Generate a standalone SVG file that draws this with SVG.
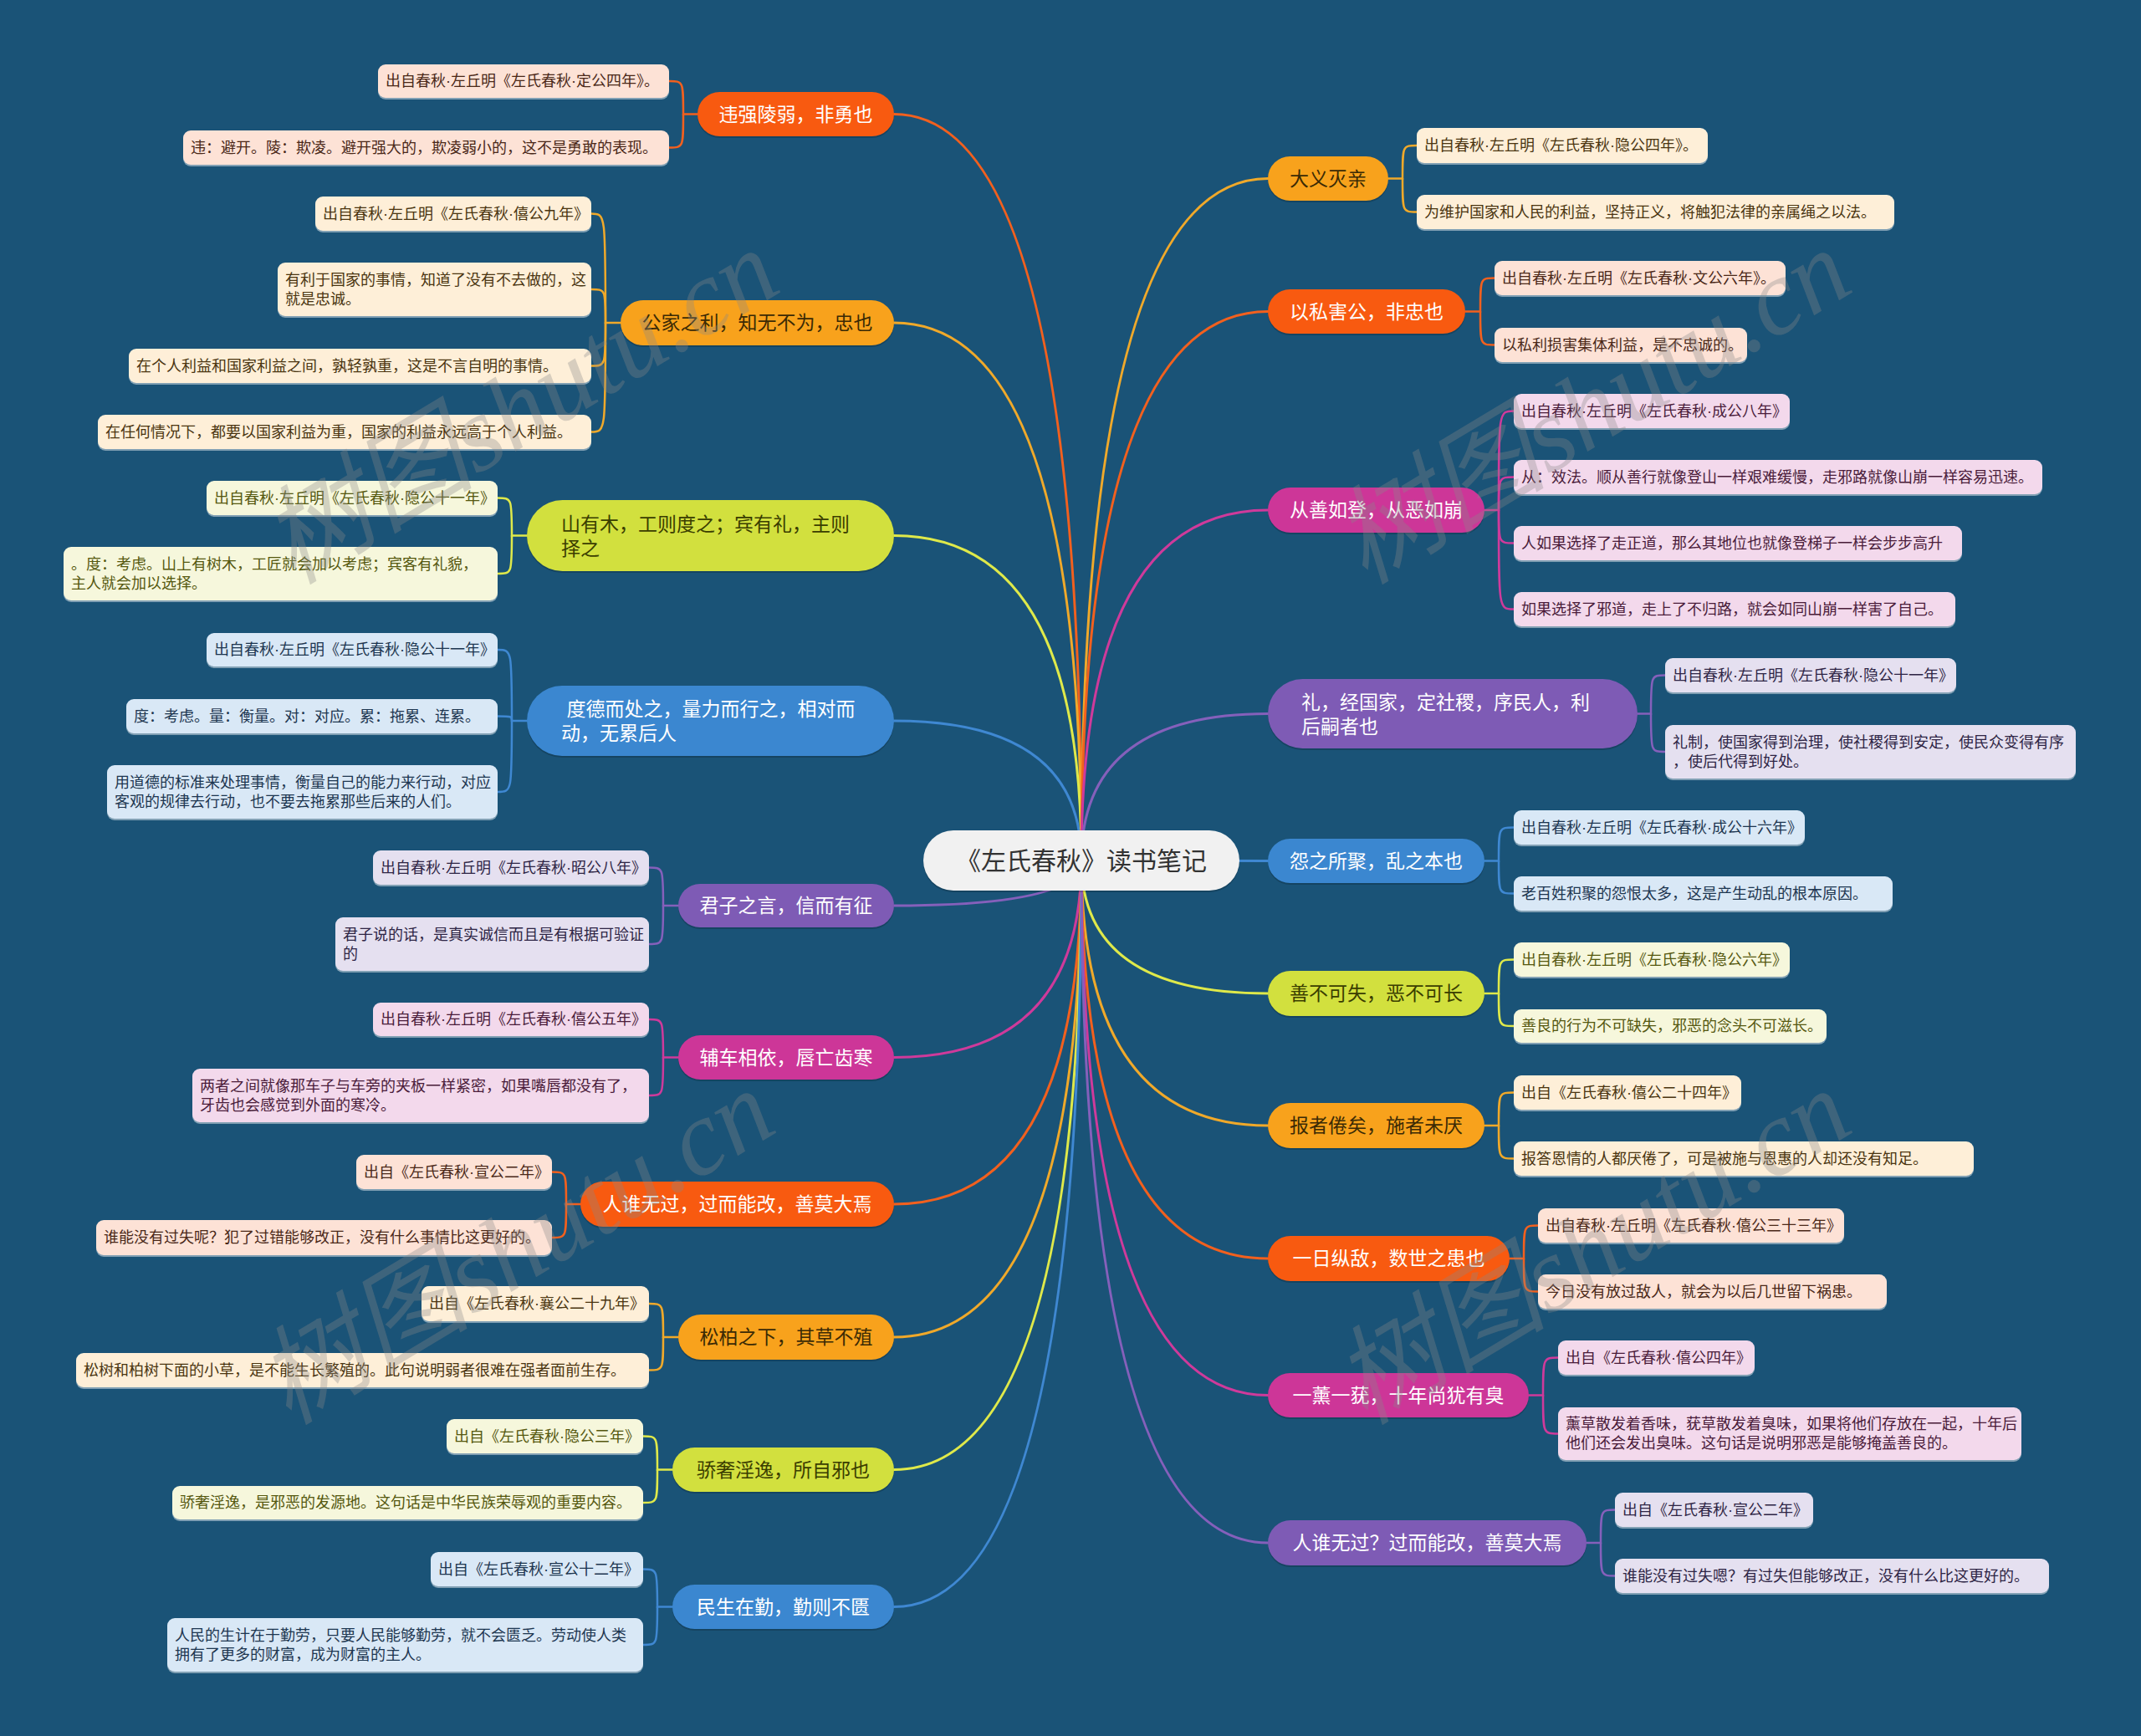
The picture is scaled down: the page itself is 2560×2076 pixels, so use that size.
<svg xmlns="http://www.w3.org/2000/svg" width="2560" height="2076" viewBox="0 0 2560 2076">
<defs>
<style>
text{font-family:"Liberation Sans","Noto Sans CJK SC",sans-serif;dominant-baseline:central}
.mt{font-size:23px;text-anchor:middle}
.ml{font-size:23px;text-anchor:start}
.st{font-size:18px;text-anchor:start}
.w{fill:#ffffff}
.dA{fill:#3b2a05}
.dY{fill:#3a3d00}
.mR{fill:#f85a10}.mA{fill:#f8a21c}.mY{fill:#d2e03e}.mB{fill:#3b87d0}.mP{fill:#7e5bb5}.mM{fill:#cd3698}
.sR{fill:#fde2d6}.sA{fill:#feefd8}.sY{fill:#f6f7dc}.sB{fill:#d9e8f6}.sP{fill:#e5e0f0}.sM{fill:#f3d9ec}
.tR{fill:#4a2818}.tA{fill:#4a3510}.tY{fill:#55580f}.tB{fill:#1d3650}.tP{fill:#2e2545}.tM{fill:#4a1c3a}
.shadow{fill:#000;fill-opacity:0.18}
.edge{fill:#ffffff;fill-opacity:0.45}
#connectors path{fill:none;stroke-linecap:round}
.cR{stroke:#f2601e}.cA{stroke:#f0a92a}.cY{stroke:#dfe94a}.cB{stroke:#3f88d2}.cP{stroke:#8560bb}.cM{stroke:#cf3a9b}
.k{stroke-width:3}
.c{stroke-width:2.5}
.wm{font-family:"Liberation Serif","Noto Sans CJK SC",serif;font-size:128px;font-style:italic;fill:#8a8a8a;fill-opacity:0.33;dominant-baseline:alphabetic}
</style>
</defs>
<rect x="0" y="0" width="2560" height="2076" fill="#1a5377"/>

<g id="connectors">
<path class="k cR" d="M1293 1029 Q1293 136.5 1069 136.5"/>
<path class="k cA" d="M1293 1029 Q1293 386 1069 386"/>
<path class="k cY" d="M1293 1029 Q1293 640.5 1069 640.5"/>
<path class="k cB" d="M1293 1029 Q1293 862 1069 862"/>
<path class="k cP" d="M1293 1029 Q1293 1083 1069 1083"/>
<path class="k cM" d="M1293 1029 Q1293 1264.5 1069 1264.5"/>
<path class="k cR" d="M1293 1029 Q1293 1440 1069 1440"/>
<path class="k cA" d="M1293 1029 Q1293 1599 1069 1599"/>
<path class="k cY" d="M1293 1029 Q1293 1757.5 1069 1757.5"/>
<path class="k cB" d="M1293 1029 Q1293 1921.5 1069 1921.5"/>
<path class="k cA" d="M1293 1029 Q1293 213.5 1516 213.5"/>
<path class="k cR" d="M1293 1029 Q1293 372.5 1516 372.5"/>
<path class="k cM" d="M1293 1029 Q1293 610 1516 610"/>
<path class="k cP" d="M1293 1029 Q1293 853.5 1516 853.5"/>
<path class="k cB" d="M1293 1029 L1516 1029.5"/>
<path class="k cY" d="M1293 1029 Q1293 1188 1516 1188"/>
<path class="k cA" d="M1293 1029 Q1293 1346 1516 1346"/>
<path class="k cR" d="M1293 1029 Q1293 1505 1516 1505"/>
<path class="k cM" d="M1293 1029 Q1293 1668.5 1516 1668.5"/>
<path class="k cP" d="M1293 1029 Q1293 1845 1516 1845"/>

<path class="c cR" d="M834 136.5 H817 C817 97 817 97 800 97"/>
<path class="c cR" d="M817 136.5 C817 176.5 817 176.5 800 176.5"/>
<path class="c cA" d="M742 386 H724 C724 255.5 724 255.5 707 255.5"/>
<path class="c cA" d="M724 386 C724 346 724 346 707 346"/>
<path class="c cA" d="M724 386 C724 437.5 724 437.5 707 437.5"/>
<path class="c cA" d="M724 386 C724 516.5 724 516.5 707 516.5"/>
<path class="c cY" d="M630 640.5 H612 C612 595.5 612 595.5 595 595.5"/>
<path class="c cY" d="M612 640.5 C612 686 612 686 595 686"/>
<path class="c cB" d="M630 862 H612 C612 777 612 777 595 777"/>
<path class="c cB" d="M612 862 C612 856.5 612 856.5 595 856.5"/>
<path class="c cB" d="M612 862 C612 947 612 947 595 947"/>
<path class="c cP" d="M811 1083 H793 C793 1037.5 793 1037.5 776 1037.5"/>
<path class="c cP" d="M793 1083 C793 1129 793 1129 776 1129"/>
<path class="c cM" d="M811 1264.5 H793 C793 1219 793 1219 776 1219"/>
<path class="c cM" d="M793 1264.5 C793 1310 793 1310 776 1310"/>
<path class="c cR" d="M694 1440 H677 C677 1401.5 677 1401.5 660 1401.5"/>
<path class="c cR" d="M677 1440 C677 1480 677 1480 660 1480"/>
<path class="c cA" d="M811 1599 H793 C793 1559 793 1559 776 1559"/>
<path class="c cA" d="M793 1599 C793 1638.5 793 1638.5 776 1638.5"/>
<path class="c cY" d="M804 1757.5 H786 C786 1717.5 786 1717.5 769 1717.5"/>
<path class="c cY" d="M786 1757.5 C786 1797 786 1797 769 1797"/>
<path class="c cB" d="M804 1921.5 H786 C786 1876.5 786 1876.5 769 1876.5"/>
<path class="c cB" d="M786 1921.5 C786 1967 786 1967 769 1967"/>

<path class="c cA" d="M1660 213.5 H1677 C1677 174 1677 174 1694 174"/>
<path class="c cA" d="M1677 213.5 C1677 253.5 1677 253.5 1694 253.5"/>
<path class="c cR" d="M1752 372.5 H1770 C1770 332.5 1770 332.5 1787 332.5"/>
<path class="c cR" d="M1770 372.5 C1770 412.5 1770 412.5 1787 412.5"/>
<path class="c cM" d="M1775 610 H1792 C1792 491.5 1792 491.5 1810 491.5"/>
<path class="c cM" d="M1792 610 C1792 570.5 1792 570.5 1810 570.5"/>
<path class="c cM" d="M1792 610 C1792 649.5 1792 649.5 1810 649.5"/>
<path class="c cM" d="M1792 610 C1792 728.5 1792 728.5 1810 728.5"/>
<path class="c cP" d="M1958 853.5 H1974 C1974 807.5 1974 807.5 1991 807.5"/>
<path class="c cP" d="M1974 853.5 C1974 899 1974 899 1991 899"/>
<path class="c cB" d="M1775 1029.5 H1792 C1792 989.5 1792 989.5 1810 989.5"/>
<path class="c cB" d="M1792 1029.5 C1792 1068.5 1792 1068.5 1810 1068.5"/>
<path class="c cY" d="M1775 1188 H1792 C1792 1147.5 1792 1147.5 1810 1147.5"/>
<path class="c cY" d="M1792 1188 C1792 1227 1792 1227 1810 1227"/>
<path class="c cA" d="M1775 1346 H1792 C1792 1306.5 1792 1306.5 1810 1306.5"/>
<path class="c cA" d="M1792 1346 C1792 1385.5 1792 1385.5 1810 1385.5"/>
<path class="c cR" d="M1805 1505 H1822 C1822 1465.5 1822 1465.5 1839 1465.5"/>
<path class="c cR" d="M1822 1505 C1822 1544.5 1822 1544.5 1839 1544.5"/>
<path class="c cM" d="M1828 1668.5 H1845 C1845 1623.5 1845 1623.5 1863 1623.5"/>
<path class="c cM" d="M1845 1668.5 C1845 1714.5 1845 1714.5 1863 1714.5"/>
<path class="c cP" d="M1897 1845 H1914 C1914 1805.5 1914 1805.5 1931 1805.5"/>
<path class="c cP" d="M1914 1845 C1914 1884.5 1914 1884.5 1931 1884.5"/>
</g>

<g id="root">
<rect x="1104" y="995" width="378" height="72" rx="36" class="shadow"/>
<rect x="1104" y="993" width="378" height="72" rx="36" fill="#f1f1f1"/>
<text x="1293" y="1029" style="font-size:30px;text-anchor:middle" fill="#333333">《左氏春秋》读书笔记</text>
</g>

<g id="L1">
<rect x="834" y="112" width="235" height="53" rx="26.5" class="shadow"/>
<rect x="834" y="110" width="235" height="53" rx="26.5" class="mR"/>
<text x="951.5" y="136.5" class="mt w">违强陵弱，非勇也</text>
</g>
<g id="L2">
<rect x="742" y="361" width="327" height="54" rx="27" class="shadow"/>
<rect x="742" y="359" width="327" height="54" rx="27" class="mA"/>
<text x="905.5" y="386" class="mt dA">公家之利，知无不为，忠也</text>
</g>
<g id="L3">
<rect x="630" y="600" width="439" height="85" rx="42.5" class="shadow"/>
<rect x="630" y="598" width="439" height="85" rx="42.5" class="mY"/>
<text class="ml dY"><tspan x="671" y="627">山有木，工则度之；宾有礼，主则</tspan><tspan x="671" y="656">择之</tspan></text>
</g>
<g id="L4">
<rect x="630" y="822" width="439" height="84" rx="42" class="shadow"/>
<rect x="630" y="820" width="439" height="84" rx="42" class="mB"/>
<text class="ml w" xml:space="preserve"><tspan x="671" y="848"> 度德而处之，量力而行之，相对而</tspan><tspan x="671" y="877">动，无累后人</tspan></text>
</g>
<g id="L5">
<rect x="811" y="1059" width="258" height="52" rx="26" class="shadow"/>
<rect x="811" y="1057" width="258" height="52" rx="26" class="mP"/>
<text x="940" y="1083" class="mt w">君子之言，信而有征</text>
</g>
<g id="L6">
<rect x="811" y="1240" width="258" height="53" rx="26.5" class="shadow"/>
<rect x="811" y="1238" width="258" height="53" rx="26.5" class="mM"/>
<text x="940" y="1264.5" class="mt w">辅车相依，唇亡齿寒</text>
</g>
<g id="L7">
<rect x="694" y="1415" width="375" height="54" rx="27" class="shadow"/>
<rect x="694" y="1413" width="375" height="54" rx="27" class="mR"/>
<text x="881.5" y="1440" class="mt w">人谁无过，过而能改，善莫大焉</text>
</g>
<g id="L8">
<rect x="811" y="1574" width="258" height="54" rx="27" class="shadow"/>
<rect x="811" y="1572" width="258" height="54" rx="27" class="mA"/>
<text x="940" y="1599" class="mt dA">松柏之下，其草不殖</text>
</g>
<g id="L9">
<rect x="804" y="1733" width="265" height="53" rx="26.5" class="shadow"/>
<rect x="804" y="1731" width="265" height="53" rx="26.5" class="mY"/>
<text x="936.5" y="1757.5" class="mt dY">骄奢淫逸，所自邪也</text>
</g>
<g id="L10">
<rect x="804" y="1897" width="265" height="53" rx="26.5" class="shadow"/>
<rect x="804" y="1895" width="265" height="53" rx="26.5" class="mB"/>
<text x="936.5" y="1921.5" class="mt w">民生在勤，勤则不匮</text>
</g>

<g id="R1">
<rect x="1516" y="189" width="144" height="53" rx="26.5" class="shadow"/>
<rect x="1516" y="187" width="144" height="53" rx="26.5" class="mA"/>
<text x="1588" y="213.5" class="mt dA">大义灭亲</text>
</g>
<g id="R2">
<rect x="1516" y="348" width="236" height="53" rx="26.5" class="shadow"/>
<rect x="1516" y="346" width="236" height="53" rx="26.5" class="mR"/>
<text x="1634" y="372.5" class="mt w">以私害公，非忠也</text>
</g>
<g id="R3">
<rect x="1516" y="585" width="259" height="54" rx="27" class="shadow"/>
<rect x="1516" y="583" width="259" height="54" rx="27" class="mM"/>
<text x="1645.5" y="610" class="mt w">从善如登，从恶如崩</text>
</g>
<g id="R4">
<rect x="1516" y="814" width="442" height="83" rx="41.5" class="shadow"/>
<rect x="1516" y="812" width="442" height="83" rx="41.5" class="mP"/>
<text class="ml w"><tspan x="1556" y="840">礼，经国家，定社稷，序民人，利</tspan><tspan x="1556" y="869">后嗣者也</tspan></text>
</g>
<g id="R5">
<rect x="1516" y="1005" width="259" height="53" rx="26.5" class="shadow"/>
<rect x="1516" y="1003" width="259" height="53" rx="26.5" class="mB"/>
<text x="1645.5" y="1029.5" class="mt w">怨之所聚，乱之本也</text>
</g>
<g id="R6">
<rect x="1516" y="1163" width="259" height="54" rx="27" class="shadow"/>
<rect x="1516" y="1161" width="259" height="54" rx="27" class="mY"/>
<text x="1645.5" y="1188" class="mt dY">善不可失，恶不可长</text>
</g>
<g id="R7">
<rect x="1516" y="1321" width="259" height="54" rx="27" class="shadow"/>
<rect x="1516" y="1319" width="259" height="54" rx="27" class="mA"/>
<text x="1645.5" y="1346" class="mt dA">报者倦矣，施者未厌</text>
</g>
<g id="R8">
<rect x="1516" y="1480" width="289" height="54" rx="27" class="shadow"/>
<rect x="1516" y="1478" width="289" height="54" rx="27" class="mR"/>
<text x="1660.5" y="1505" class="mt w">一日纵敌，数世之患也</text>
</g>
<g id="R9">
<rect x="1516" y="1644" width="312" height="53" rx="26.5" class="shadow"/>
<rect x="1516" y="1642" width="312" height="53" rx="26.5" class="mM"/>
<text x="1672" y="1668.5" class="mt w">一薰一莸，十年尚犹有臭</text>
</g>
<g id="R10">
<rect x="1516" y="1820" width="381" height="54" rx="27" class="shadow"/>
<rect x="1516" y="1818" width="381" height="54" rx="27" class="mP"/>
<text x="1706.5" y="1845" class="mt w">人谁无过？过而能改，善莫大焉</text>
</g>

<g id="L1a"><rect x="452" y="79" width="348" height="40" rx="9" class="edge"/><rect x="452" y="77" width="348" height="40" rx="9" class="sR"/><text x="461" y="97" class="st tR">出自春秋·左丘明《左氏春秋·定公四年》。</text></g>
<g id="L1b"><rect x="219" y="158" width="581" height="41" rx="9" class="edge"/><rect x="219" y="156" width="581" height="41" rx="9" class="sR"/><text x="228" y="176.5" class="st tR">违：避开。陵：欺凌。避开强大的，欺凌弱小的，这不是勇敢的表现。</text></g>
<g id="L2a"><rect x="377" y="237" width="330" height="41" rx="9" class="edge"/><rect x="377" y="235" width="330" height="41" rx="9" class="sA"/><text x="386" y="255.5" class="st tA">出自春秋·左丘明《左氏春秋·僖公九年》</text></g>
<g id="L2b"><rect x="332" y="316" width="375" height="64" rx="9" class="edge"/><rect x="332" y="314" width="375" height="64" rx="9" class="sA"/><text class="st tA"><tspan x="341" y="334.5">有利于国家的事情，知道了没有不去做的，这</tspan><tspan x="341" y="357.5">就是忠诚。</tspan></text></g>
<g id="L2c"><rect x="154" y="419" width="553" height="41" rx="9" class="edge"/><rect x="154" y="417" width="553" height="41" rx="9" class="sA"/><text x="163" y="437.5" class="st tA">在个人利益和国家利益之间，孰轻孰重，这是不言自明的事情。</text></g>
<g id="L2d"><rect x="117" y="498" width="590" height="41" rx="9" class="edge"/><rect x="117" y="496" width="590" height="41" rx="9" class="sA"/><text x="126" y="516.5" class="st tA">在任何情况下，都要以国家利益为重，国家的利益永远高于个人利益。</text></g>
<g id="L3a"><rect x="247" y="577" width="348" height="41" rx="9" class="edge"/><rect x="247" y="575" width="348" height="41" rx="9" class="sY"/><text x="256" y="595.5" class="st tY">出自春秋·左丘明《左氏春秋·隐公十一年》</text></g>
<g id="L3b"><rect x="76" y="656" width="519" height="64" rx="9" class="edge"/><rect x="76" y="654" width="519" height="64" rx="9" class="sY"/><text class="st tY"><tspan x="85" y="674.5">。度：考虑。山上有树木，工匠就会加以考虑；宾客有礼貌，</tspan><tspan x="85" y="697.5">主人就会加以选择。</tspan></text></g>
<g id="L4a"><rect x="247" y="759" width="348" height="40" rx="9" class="edge"/><rect x="247" y="757" width="348" height="40" rx="9" class="sB"/><text x="256" y="777" class="st tB">出自春秋·左丘明《左氏春秋·隐公十一年》</text></g>
<g id="L4b"><rect x="151" y="838" width="444" height="41" rx="9" class="edge"/><rect x="151" y="836" width="444" height="41" rx="9" class="sB"/><text x="160" y="856.5" class="st tB">度：考虑。量：衡量。对：对应。累：拖累、连累。</text></g>
<g id="L4c"><rect x="128" y="917" width="467" height="64" rx="9" class="edge"/><rect x="128" y="915" width="467" height="64" rx="9" class="sB"/><text class="st tB"><tspan x="137" y="935.5">用道德的标准来处理事情，衡量自己的能力来行动，对应</tspan><tspan x="137" y="958.5">客观的规律去行动，也不要去拖累那些后来的人们。</tspan></text></g>
<g id="L5a"><rect x="446" y="1019" width="330" height="41" rx="9" class="edge"/><rect x="446" y="1017" width="330" height="41" rx="9" class="sP"/><text x="455" y="1037.5" class="st tP">出自春秋·左丘明《左氏春秋·昭公八年》</text></g>
<g id="L5b"><rect x="401" y="1099" width="375" height="64" rx="9" class="edge"/><rect x="401" y="1097" width="375" height="64" rx="9" class="sP"/><text class="st tP"><tspan x="410" y="1117.5">君子说的话，是真实诚信而且是有根据可验证</tspan><tspan x="410" y="1140.5">的</tspan></text></g>
<g id="L6a"><rect x="446" y="1201" width="330" height="40" rx="9" class="edge"/><rect x="446" y="1199" width="330" height="40" rx="9" class="sM"/><text x="455" y="1219" class="st tM">出自春秋·左丘明《左氏春秋·僖公五年》</text></g>
<g id="L6b"><rect x="230" y="1280" width="546" height="64" rx="9" class="edge"/><rect x="230" y="1278" width="546" height="64" rx="9" class="sM"/><text class="st tM"><tspan x="239" y="1298.5">两者之间就像那车子与车旁的夹板一样紧密，如果嘴唇都没有了，</tspan><tspan x="239" y="1321.5">牙齿也会感觉到外面的寒冷。</tspan></text></g>
<g id="L7a"><rect x="426" y="1383" width="234" height="41" rx="9" class="edge"/><rect x="426" y="1381" width="234" height="41" rx="9" class="sR"/><text x="435" y="1401.5" class="st tR">出自《左氏春秋·宣公二年》</text></g>
<g id="L7b"><rect x="115" y="1461" width="545" height="42" rx="9" class="edge"/><rect x="115" y="1459" width="545" height="42" rx="9" class="sR"/><text x="124" y="1480" class="st tR">谁能没有过失呢？犯了过错能够改正，没有什么事情比这更好的。</text></g>
<g id="L8a"><rect x="504" y="1540" width="272" height="42" rx="9" class="edge"/><rect x="504" y="1538" width="272" height="42" rx="9" class="sA"/><text x="513" y="1559" class="st tA">出自《左氏春秋·襄公二十九年》</text></g>
<g id="L8b"><rect x="91" y="1620" width="685" height="41" rx="9" class="edge"/><rect x="91" y="1618" width="685" height="41" rx="9" class="sA"/><text x="100" y="1638.5" class="st tA">松树和柏树下面的小草，是不能生长繁殖的。此句说明弱者很难在强者面前生存。</text></g>
<g id="L9a"><rect x="534" y="1699" width="235" height="41" rx="9" class="edge"/><rect x="534" y="1697" width="235" height="41" rx="9" class="sY"/><text x="543" y="1717.5" class="st tY">出自《左氏春秋·隐公三年》</text></g>
<g id="L9b"><rect x="206" y="1779" width="563" height="40" rx="9" class="edge"/><rect x="206" y="1777" width="563" height="40" rx="9" class="sY"/><text x="215" y="1797" class="st tY">骄奢淫逸，是邪恶的发源地。这句话是中华民族荣辱观的重要内容。</text></g>
<g id="L10a"><rect x="515" y="1858" width="254" height="41" rx="9" class="edge"/><rect x="515" y="1856" width="254" height="41" rx="9" class="sB"/><text x="524" y="1876.5" class="st tB">出自《左氏春秋·宣公十二年》</text></g>
<g id="L10b"><rect x="200" y="1937" width="569" height="64" rx="9" class="edge"/><rect x="200" y="1935" width="569" height="64" rx="9" class="sB"/><text class="st tB"><tspan x="209" y="1955.5">人民的生计在于勤劳，只要人民能够勤劳，就不会匮乏。劳动使人类</tspan><tspan x="209" y="1978.5">拥有了更多的财富，成为财富的主人。</tspan></text></g>

<g id="R1a"><rect x="1694" y="155" width="348" height="42" rx="9" class="edge"/><rect x="1694" y="153" width="348" height="42" rx="9" class="sA"/><text x="1703" y="174" class="st tA">出自春秋·左丘明《左氏春秋·隐公四年》。</text></g>
<g id="R1b"><rect x="1694" y="235" width="571" height="41" rx="9" class="edge"/><rect x="1694" y="233" width="571" height="41" rx="9" class="sA"/><text x="1703" y="253.5" class="st tA">为维护国家和人民的利益，坚持正义，将触犯法律的亲属绳之以法。</text></g>
<g id="R2a"><rect x="1787" y="314" width="348" height="41" rx="9" class="edge"/><rect x="1787" y="312" width="348" height="41" rx="9" class="sR"/><text x="1796" y="332.5" class="st tR">出自春秋·左丘明《左氏春秋·文公六年》。</text></g>
<g id="R2b"><rect x="1787" y="394" width="302" height="41" rx="9" class="edge"/><rect x="1787" y="392" width="302" height="41" rx="9" class="sR"/><text x="1796" y="412.5" class="st tR">以私利损害集体利益，是不忠诚的。</text></g>
<g id="R3a"><rect x="1810" y="473" width="330" height="41" rx="9" class="edge"/><rect x="1810" y="471" width="330" height="41" rx="9" class="sM"/><text x="1819" y="491.5" class="st tM">出自春秋·左丘明《左氏春秋·成公八年》</text></g>
<g id="R3b"><rect x="1810" y="552" width="632" height="41" rx="9" class="edge"/><rect x="1810" y="550" width="632" height="41" rx="9" class="sM"/><text x="1819" y="570.5" class="st tM">从：效法。顺从善行就像登山一样艰难缓慢，走邪路就像山崩一样容易迅速。</text></g>
<g id="R3c"><rect x="1810" y="631" width="536" height="41" rx="9" class="edge"/><rect x="1810" y="629" width="536" height="41" rx="9" class="sM"/><text x="1819" y="649.5" class="st tM">人如果选择了走正道，那么其地位也就像登梯子一样会步步高升</text></g>
<g id="R3d"><rect x="1810" y="710" width="528" height="41" rx="9" class="edge"/><rect x="1810" y="708" width="528" height="41" rx="9" class="sM"/><text x="1819" y="728.5" class="st tM">如果选择了邪道，走上了不归路，就会如同山崩一样害了自己。</text></g>
<g id="R4a"><rect x="1991" y="789" width="348" height="41" rx="9" class="edge"/><rect x="1991" y="787" width="348" height="41" rx="9" class="sP"/><text x="2000" y="807.5" class="st tP">出自春秋·左丘明《左氏春秋·隐公十一年》</text></g>
<g id="R4b"><rect x="1991" y="869" width="491" height="64" rx="9" class="edge"/><rect x="1991" y="867" width="491" height="64" rx="9" class="sP"/><text class="st tP"><tspan x="2000" y="887.5">礼制，使国家得到治理，使社稷得到安定，使民众变得有序</tspan><tspan x="2000" y="910.5">，使后代得到好处。</tspan></text></g>
<g id="R5a"><rect x="1810" y="971" width="348" height="41" rx="9" class="edge"/><rect x="1810" y="969" width="348" height="41" rx="9" class="sB"/><text x="1819" y="989.5" class="st tB">出自春秋·左丘明《左氏春秋·成公十六年》</text></g>
<g id="R5b"><rect x="1810" y="1050" width="453" height="41" rx="9" class="edge"/><rect x="1810" y="1048" width="453" height="41" rx="9" class="sB"/><text x="1819" y="1068.5" class="st tB">老百姓积聚的怨恨太多，这是产生动乱的根本原因。</text></g>
<g id="R6a"><rect x="1810" y="1129" width="330" height="41" rx="9" class="edge"/><rect x="1810" y="1127" width="330" height="41" rx="9" class="sY"/><text x="1819" y="1147.5" class="st tY">出自春秋·左丘明《左氏春秋·隐公六年》</text></g>
<g id="R6b"><rect x="1810" y="1209" width="374" height="40" rx="9" class="edge"/><rect x="1810" y="1207" width="374" height="40" rx="9" class="sY"/><text x="1819" y="1227" class="st tY">善良的行为不可缺失，邪恶的念头不可滋长。</text></g>
<g id="R7a"><rect x="1810" y="1288" width="272" height="41" rx="9" class="edge"/><rect x="1810" y="1286" width="272" height="41" rx="9" class="sA"/><text x="1819" y="1306.5" class="st tA">出自《左氏春秋·僖公二十四年》</text></g>
<g id="R7b"><rect x="1810" y="1367" width="550" height="41" rx="9" class="edge"/><rect x="1810" y="1365" width="550" height="41" rx="9" class="sA"/><text x="1819" y="1385.5" class="st tA">报答恩情的人都厌倦了，可是被施与恩惠的人却还没有知足。</text></g>
<g id="R8a"><rect x="1839" y="1447" width="366" height="41" rx="9" class="edge"/><rect x="1839" y="1445" width="366" height="41" rx="9" class="sR"/><text x="1848" y="1465.5" class="st tR">出自春秋·左丘明《左氏春秋·僖公三十三年》</text></g>
<g id="R8b"><rect x="1839" y="1526" width="417" height="41" rx="9" class="edge"/><rect x="1839" y="1524" width="417" height="41" rx="9" class="sR"/><text x="1848" y="1544.5" class="st tR">今日没有放过敌人，就会为以后几世留下祸患。</text></g>
<g id="R9a"><rect x="1863" y="1605" width="235" height="41" rx="9" class="edge"/><rect x="1863" y="1603" width="235" height="41" rx="9" class="sM"/><text x="1872" y="1623.5" class="st tM">出自《左氏春秋·僖公四年》</text></g>
<g id="R9b"><rect x="1863" y="1685" width="554" height="63" rx="9" class="edge"/><rect x="1863" y="1683" width="554" height="63" rx="9" class="sM"/><text class="st tM"><tspan x="1872" y="1703">薰草散发着香味，莸草散发着臭味，如果将他们存放在一起，十年后</tspan><tspan x="1872" y="1726">他们还会发出臭味。这句话是说明邪恶是能够掩盖善良的。</tspan></text></g>
<g id="R10a"><rect x="1931" y="1787" width="237" height="41" rx="9" class="edge"/><rect x="1931" y="1785" width="237" height="41" rx="9" class="sP"/><text x="1940" y="1805.5" class="st tP">出自《左氏春秋·宣公二年》</text></g>
<g id="R10b"><rect x="1931" y="1866" width="519" height="41" rx="9" class="edge"/><rect x="1931" y="1864" width="519" height="41" rx="9" class="sP"/><text x="1940" y="1884.5" class="st tP">谁能没有过失嗯？有过失但能够改正，没有什么比这更好的。</text></g>

<g id="watermarks">
<text class="wm" transform="translate(350 700) rotate(-31)">树图shutu.cn</text>
<text class="wm" transform="translate(1632 700) rotate(-31)">树图shutu.cn</text>
<text class="wm" transform="translate(345 1705) rotate(-31)">树图shutu.cn</text>
<text class="wm" transform="translate(1632 1705) rotate(-31)">树图shutu.cn</text>
</g>
</svg>
